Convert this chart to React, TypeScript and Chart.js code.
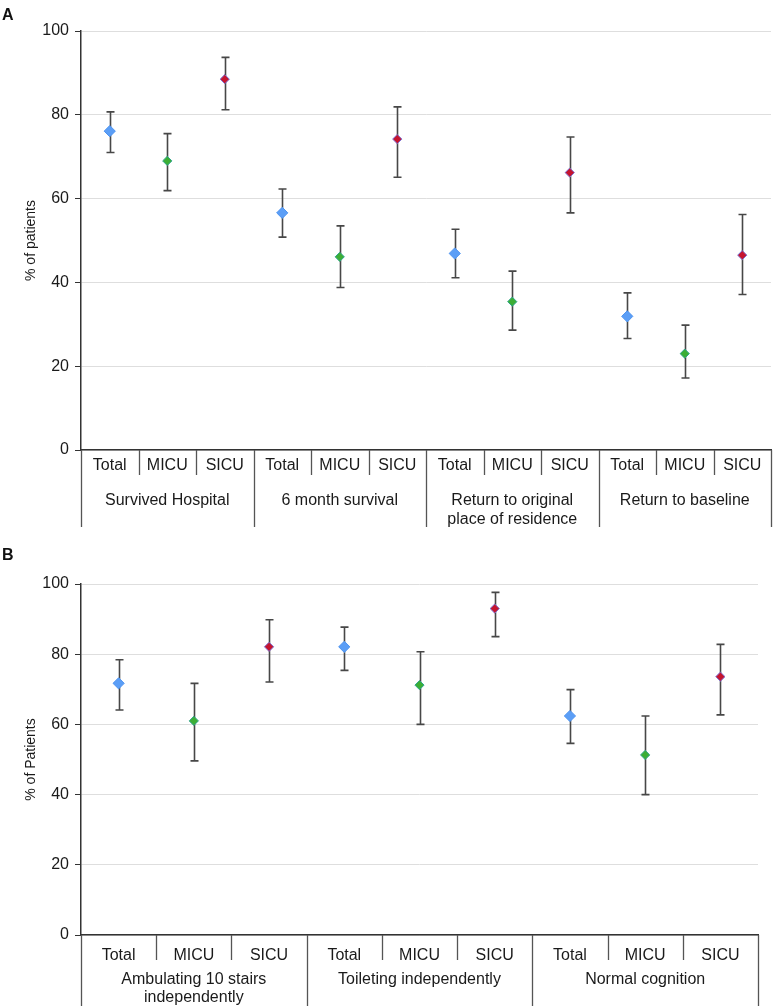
import React, { useEffect, useRef } from "react";
import { Chart, registerables } from "chart.js";
Chart.register(...registerables);

const FONT = "'Liberation Sans', Arial, Helvetica, sans-serif";

const subLabels = ["Total", "MICU", "SICU"];
const subColors = ["#5b9ef6", "#3cae35", "#c5142e"];
const subBorders = ["#4d93f0", "#2fa58c", "#7c6fd0"];
const subRadius = [5.6, 4.6, 4.6];

const yTicks = [0, 20, 40, 60, 80, 100];

const groupsA = [["Survived Hospital"], ["6 month survival"], ["Return to original", "place of residence"], ["Return to baseline"]];
const valuesA = [76.1, 69.0, 88.5, 56.6, 46.1, 74.2, 46.9, 35.4, 66.2, 31.9, 23.0, 46.5];
const lowerA = [71.0, 61.9, 81.2, 50.8, 38.8, 65.1, 41.1, 28.6, 56.6, 26.6, 17.2, 37.1];
const upperA = [80.7, 75.5, 93.7, 62.3, 53.5, 81.9, 52.7, 42.7, 74.7, 37.5, 29.8, 56.2];

const groupsB = [["Ambulating 10 stairs", "independently"], ["Toileting independently"], ["Normal cognition"]];
const valuesB = [71.7, 61.0, 82.1, 82.1, 71.2, 93.0, 62.4, 51.3, 73.6];
const lowerB = [64.1, 49.6, 72.1, 75.4, 60.0, 85.0, 54.6, 40.0, 62.7];
const upperB = [78.4, 71.7, 89.8, 87.7, 80.7, 97.6, 69.9, 62.4, 82.8];

type PanelProps = {
  top: number;
  height: number;
  padTop: number;
  padRight: number;
  axisHeight: number;
  yTitle: string;
  groups: string[][];
  values: number[];
  lower: number[];
  upper: number[];
  subBase: number;
  subDivLen: number;
  groupBase: number;
  groupLine: number;
  groupDivLen: number;
};

function Panel(p: PanelProps) {
  const ref = useRef<HTMLCanvasElement | null>(null);
  useEffect(() => {
    const canvas = ref.current;
    if (!canvas) return;
    const n = p.values.length;
    const labels = p.values.map((_, i) => subLabels[i % 3]);

    const errorBars = {
      id: "errorBars",
      beforeDatasetsDraw(chart: any) {
        const { ctx } = chart;
        const x = chart.scales.x;
        const y = chart.scales.y;
        ctx.save();
        ctx.strokeStyle = "#474747";
        ctx.lineWidth = 1.6;
        for (let i = 0; i < n; i++) {
          const px = Math.round(x.getPixelForValue(i)) + 0.5;
          const y1 = y.getPixelForValue(p.lower[i]);
          const y2 = y.getPixelForValue(p.upper[i]);
          ctx.beginPath();
          ctx.moveTo(px, y1);
          ctx.lineTo(px, y2);
          ctx.moveTo(px - 4, y1);
          ctx.lineTo(px + 4, y1);
          ctx.moveTo(px - 4, y2);
          ctx.lineTo(px + 4, y2);
          ctx.stroke();
        }
        ctx.restore();
      },
    };

    const groupAxis = {
      id: "groupAxis",
      afterDraw(chart: any) {
        const { ctx, chartArea } = chart;
        const x = chart.scales.x;
        const step = x.getPixelForValue(1) - x.getPixelForValue(0);
        const start = x.getPixelForValue(0) - step / 2;
        const bottom = chartArea.bottom;
        ctx.save();
        ctx.strokeStyle = "#555";
        ctx.lineWidth = 1.3;
        for (let k = 0; k <= n; k++) {
          const bx = Math.round(start + k * step) + 0.5;
          const len = k % 3 === 0 ? p.groupDivLen : p.subDivLen;
          ctx.beginPath();
          ctx.moveTo(bx, bottom);
          ctx.lineTo(bx, bottom + len);
          ctx.stroke();
        }
        ctx.fillStyle = "#1a1a1a";
        ctx.font = `16px ${FONT}`;
        ctx.textAlign = "center";
        ctx.textBaseline = "alphabetic";
        for (let i = 0; i < n; i++) {
          ctx.fillText(labels[i], x.getPixelForValue(i), bottom + p.subBase);
        }
        p.groups.forEach((lines, g) => {
          const cx = start + (g * 3 + 1.5) * step;
          lines.forEach((t, li) => {
            ctx.fillText(t, cx, bottom + p.groupBase + li * p.groupLine);
          });
        });
        ctx.restore();
      },
    };

    const chart = new Chart(canvas, {
      type: "scatter",
      data: {
        labels,
        datasets: [
          {
            data: p.values.map((v, i) => ({ x: i, y: v })),
            showLine: false,
            pointStyle: "rectRot",
            pointRadius: (c: any) => subRadius[c.dataIndex % 3],
            pointBackgroundColor: (c: any) => subColors[c.dataIndex % 3],
            pointBorderColor: (c: any) => subBorders[c.dataIndex % 3],
            pointBorderWidth: 1,
          } as any,
        ],
      },
      options: {
        animation: false,
        responsive: false,
        events: [],
        layout: { padding: { top: p.padTop, right: p.padRight, left: 0, bottom: 0 } },
        plugins: { legend: { display: false }, tooltip: { enabled: false }, title: { display: false } },
        scales: {
          x: {
            type: "linear",
            min: -0.5,
            max: n - 0.5,
            ticks: { display: false },
            grid: { display: false },
            border: { display: true, color: "#333", width: 1.5 },
            afterFit: (s: any) => {
              s.height = p.axisHeight;
            },
          },
          y: {
            min: 0,
            max: 100,
            afterBuildTicks: (s: any) => {
              s.ticks = yTicks.map((v) => ({ value: v }));
            },
            ticks: { font: { size: 16, family: FONT }, color: "#1a1a1a", padding: 6 },
            grid: { color: "#dedede", lineWidth: 1, tickColor: "#333", tickLength: 6 },
            border: { display: true, color: "#333", width: 1.5 },
            title: {
              display: true,
              text: p.yTitle,
              font: { size: 14, family: FONT },
              color: "#1a1a1a",
              padding: { top: 23, bottom: 0 },
            },
            afterFit: (s: any) => {
              s.width = 81;
            },
          },
        },
      } as any,
      plugins: [errorBars, groupAxis],
    });
    return () => chart.destroy();
  }, []);
  return (
    <canvas
      ref={ref}
      width={778}
      height={p.height}
      style={{ position: "absolute", left: 0, top: p.top, width: 778, height: p.height }}
    />
  );
}

export default function App() {
  const letter: React.CSSProperties = {
    position: "absolute",
    left: 2,
    fontFamily: FONT,
    fontWeight: "bold",
    fontSize: 16,
    lineHeight: "16px",
    color: "#111",
  };
  return (
    <div style={{ position: "absolute", left: 0, top: 0, width: 778, height: 1006, background: "#fff" }}>
      <Panel
        top={0}
        height={530}
        padTop={31}
        padRight={7}
        axisHeight={80}
        yTitle="% of patients"
        groups={groupsA}
        values={valuesA}
        lower={lowerA}
        upper={upperA}
        subBase={20}
        subDivLen={25}
        groupBase={55}
        groupLine={19}
        groupDivLen={77}
      />
      <Panel
        top={530}
        height={476}
        padTop={54}
        padRight={20}
        axisHeight={71}
        yTitle="% of Patients"
        groups={groupsB}
        values={valuesB}
        lower={lowerB}
        upper={upperB}
        subBase={25}
        subDivLen={25}
        groupBase={49}
        groupLine={18}
        groupDivLen={71}
      />
      <div style={{ ...letter, top: 7 }}>A</div>
      <div style={{ ...letter, top: 547 }}>B</div>
    </div>
  );
}
